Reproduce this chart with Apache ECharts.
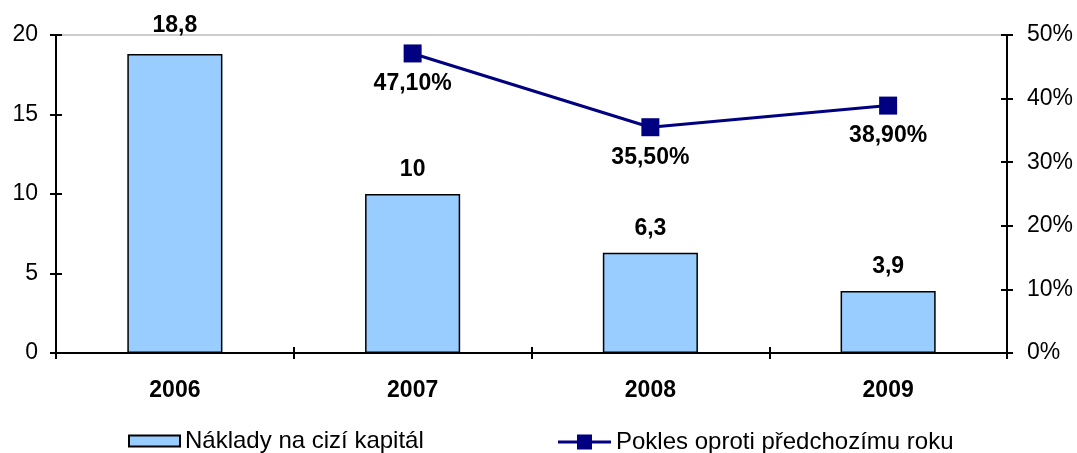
<!DOCTYPE html>
<html>
<head>
<meta charset="utf-8">
<script src="https://cdn.jsdelivr.net/npm/echarts@6/dist/echarts.min.js"></script>
<style>
  html, body { margin: 0; padding: 0; background: #fff; }
  #chart { width: 1077px; height: 453px; }
</style>
</head>
<body>
<div id="chart"></div>
<script>
// data
const years = ['2006', '2007', '2008', '2009']
const costs = [18.8, 10, 6.3, 3.9]             // Náklady na cizí kapitál
const decline = [null, 47.1, 35.5, 38.9]       // Pokles oproti předchozímu roku, %

const font = '"Liberation Sans", Arial, sans-serif'
const comma = v => String(v).replace('.', ',')

const chart = echarts.init(document.getElementById('chart'))

// ticks in the reference cross the axis line, so each axis gets a twin with inside ticks
const tick = inside => ({ show: true, inside, length: 6, lineStyle: { color: '#000', width: 2 } })
const legendText = { fontSize: 24, color: '#000', fontFamily: font }

chart.setOption({
  animation: false,
  textStyle: { fontFamily: font },
  grid: {
    left: 56, right: 70, top: 35, bottom: 100,
    show: true, borderColor: '#999', borderWidth: 1
  },
  legend: [
    {
      top: 424, left: 123,
      itemWidth: 51, itemHeight: 11,
      textStyle: legendText,
      data: [{ name: 'Náklady na cizí kapitál', icon: 'rect' }]
    },
    {
      top: 425, left: 553,
      itemWidth: 53, itemHeight: 15,
      symbolKeepAspect: false,
      textStyle: legendText,
      data: [{
        name: 'Pokles oproti předchozímu roku',
        icon: 'path://M0,6H19V0H34V6H53V9H34V15H19V9H0Z'
      }]
    }
  ],
  xAxis: [
    {
      type: 'category',
      data: years,
      axisLine: { lineStyle: { color: '#000', width: 2 } },
      axisTick: tick(false),
      axisLabel: { fontSize: 23, fontWeight: 'bold', color: '#000', margin: 26 }
    },
    {
      type: 'category',
      data: years,
      position: 'bottom',
      axisLine: { show: false },
      axisTick: tick(true),
      axisLabel: { show: false }
    }
  ],
  yAxis: [
    {
      type: 'value', min: 0, max: 20, interval: 5,
      axisLine: { show: true, lineStyle: { color: '#000', width: 2 } },
      axisTick: tick(false),
      splitLine: { show: false },
      axisLabel: { fontSize: 23, color: '#000', margin: 18 }
    },
    {
      type: 'value', min: 0, max: 50, interval: 10,
      axisLine: { show: true, lineStyle: { color: '#000', width: 2 } },
      axisTick: tick(false),
      splitLine: { show: false },
      axisLabel: { fontSize: 23, color: '#000', margin: 20, formatter: '{value}%' }
    },
    {
      type: 'value', min: 0, max: 20, interval: 5, position: 'left',
      axisLine: { show: false }, axisTick: tick(true),
      splitLine: { show: false }, axisLabel: { show: false }
    },
    {
      type: 'value', min: 0, max: 50, interval: 10, position: 'right',
      axisLine: { show: false }, axisTick: tick(true),
      splitLine: { show: false }, axisLabel: { show: false }
    }
  ],
  series: [
    {
      name: 'Náklady na cizí kapitál',
      type: 'bar',
      barWidth: '40%',
      data: costs.map((v, i) => i === 0
        ? { value: v, label: { distance: 17 } }
        : v),
      itemStyle: { color: '#99CCFF', borderColor: '#000', borderWidth: 1.5 },
      label: {
        show: true, position: 'top', distance: 13,
        fontSize: 23, fontWeight: 'bold', color: '#000',
        formatter: p => comma(p.value)
      }
    },
    {
      name: 'Pokles oproti předchozímu roku',
      type: 'line',
      yAxisIndex: 1,
      data: decline,
      connectNulls: false,
      symbol: 'rect',
      symbolSize: 18,
      lineStyle: { color: '#000080', width: 3 },
      itemStyle: { color: '#000080' },
      label: {
        show: true, position: 'bottom', distance: 10,
        fontSize: 23, fontWeight: 'bold', color: '#000',
        formatter: p => p.value.toFixed(2).replace('.', ',') + '%'
      }
    }
  ]
})
</script>
</body>
</html>
